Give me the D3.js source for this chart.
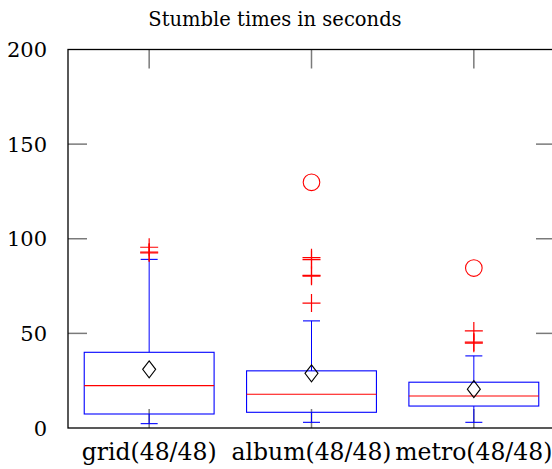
<!DOCTYPE html>
<html>
<head>
<meta charset="utf-8">
<script src="https://cdn.jsdelivr.net/npm/d3@7"></script>
<style>
  html, body { margin: 0; padding: 0; background: #fff; }
  svg { display: block; }
  text { font-family: "DejaVu Serif", "Liberation Serif", serif; fill: #000; }
</style>
</head>
<body>
<script>
// ---- data ----
const categories = ["grid(48/48)", "album(48/48)", "metro(48/48)"];
const q1 = [7.4, 8.3, 11.6];
const median = [22.4, 17.8, 16.9];
const q3 = [40.0, 30.2, 24.2];
const whiskerLow = [2.3, 3.0, 3.0];
const whiskerHigh = [89.1, 56.6, 38.1];
const mean = [31.0, 28.9, 20.5];
const outliersMild = [[92.5, 93.0, 95.5], [66.0, 80.2, 80.7, 89.0, 90.0], [44.8, 45.4, 51.3]];
const outliersExtreme = [[], [129.8], [84.5]];
const yTicks = [0, 50, 100, 150, 200];
const title = "Stumble times in seconds";

// ---- layout ----
const W = 552, H = 469;
const mLeft = 68, mRight = 555, mTop = 49.5, mBottom = 428;
const tickLen = 19;

const svg = d3.select("body").append("svg").attr("width", W).attr("height", H);

const x = d3.scaleLinear().domain([0.5, categories.length + 0.5]).range([mLeft, mRight]);
const y = d3.scaleLinear().domain([0, 200]).range([mBottom, mTop]);

const boxHalf = x(1.4) - x(1);
const capHalf = 8.5;
const plusHalf = 9;

// grey inward ticks
const grey = "#7a7a7a";
const tk = svg.append("g").attr("stroke", grey).attr("stroke-width", 1.5);
yTicks.filter(v => v > 0 && v < 200).forEach(v => {
  tk.append("line").attr("x1", mLeft).attr("x2", mLeft + tickLen).attr("y1", y(v)).attr("y2", y(v));
  tk.append("line").attr("x1", mRight - tickLen).attr("x2", mRight).attr("y1", y(v)).attr("y2", y(v));
});
categories.forEach((c, i) => {
  const cx = x(i + 1);
  tk.append("line").attr("x1", cx).attr("x2", cx).attr("y1", mTop).attr("y2", mTop + tickLen);
  tk.append("line").attr("x1", cx).attr("x2", cx).attr("y1", mBottom).attr("y2", mBottom - tickLen);
});

// boxes
categories.forEach((c, i) => {
  const cx = x(i + 1);
  const g = svg.append("g");
  g.append("line").attr("x1", cx).attr("x2", cx).attr("y1", y(q3[i])).attr("y2", y(whiskerHigh[i]))
    .attr("stroke", "#0000ff").attr("stroke-width", 1);
  g.append("line").attr("x1", cx).attr("x2", cx).attr("y1", y(q1[i])).attr("y2", y(whiskerLow[i]))
    .attr("stroke", "#0000ff").attr("stroke-width", 1);
  [whiskerHigh[i], whiskerLow[i]].forEach(v => {
    g.append("line").attr("x1", cx - capHalf).attr("x2", cx + capHalf).attr("y1", y(v)).attr("y2", y(v))
      .attr("stroke", "#0000ff").attr("stroke-width", 1.1);
  });
  g.append("rect").attr("x", cx - boxHalf).attr("width", 2 * boxHalf)
    .attr("y", y(q3[i])).attr("height", y(q1[i]) - y(q3[i]))
    .attr("fill", "none").attr("stroke", "#0000ff").attr("stroke-width", 1.1);
  g.append("line").attr("x1", cx - boxHalf).attr("x2", cx + boxHalf).attr("y1", y(median[i])).attr("y2", y(median[i]))
    .attr("stroke", "#ff0000").attr("stroke-width", 1.1);
  const my = y(mean[i]);
  g.append("path").attr("d", `M${cx},${my - 8.5}L${cx + 6.5},${my}L${cx},${my + 8.5}L${cx - 6.5},${my}Z`)
    .attr("fill", "none").attr("stroke", "#000").attr("stroke-width", 1.1);
  outliersMild[i].forEach(v => {
    const oy = y(v);
    g.append("path").attr("d", `M${cx - plusHalf},${oy}H${cx + plusHalf}M${cx},${oy - plusHalf}V${oy + plusHalf}`)
      .attr("stroke", "#ff0000").attr("stroke-width", 1.2).attr("fill", "none");
  });
  outliersExtreme[i].forEach(v => {
    g.append("circle").attr("cx", cx).attr("cy", y(v)).attr("r", 8.3)
      .attr("fill", "none").attr("stroke", "#ff0000").attr("stroke-width", 1.1);
  });
});

// frame
svg.append("rect").attr("x", mLeft).attr("y", mTop).attr("width", mRight - mLeft).attr("height", mBottom - mTop)
  .attr("fill", "none").attr("stroke", "#000").attr("stroke-width", 1.3);

// y tick labels
svg.append("g").selectAll("text").data(yTicks).join("text")
  .attr("x", 47).attr("y", d => y(d)).attr("dy", "0.36em")
  .attr("text-anchor", "end").attr("font-size", 21).text(d => d);

// category labels
svg.append("g").selectAll("text").data(categories).join("text")
  .attr("x", (d, i) => x(i + 1)).attr("y", 460)
  .attr("text-anchor", "middle").attr("font-size", 23.5).text(d => d);

// title
svg.append("text").attr("x", 275).attr("y", 26).attr("text-anchor", "middle")
  .attr("font-size", 19.5).text(title);
</script>
</body>
</html>
